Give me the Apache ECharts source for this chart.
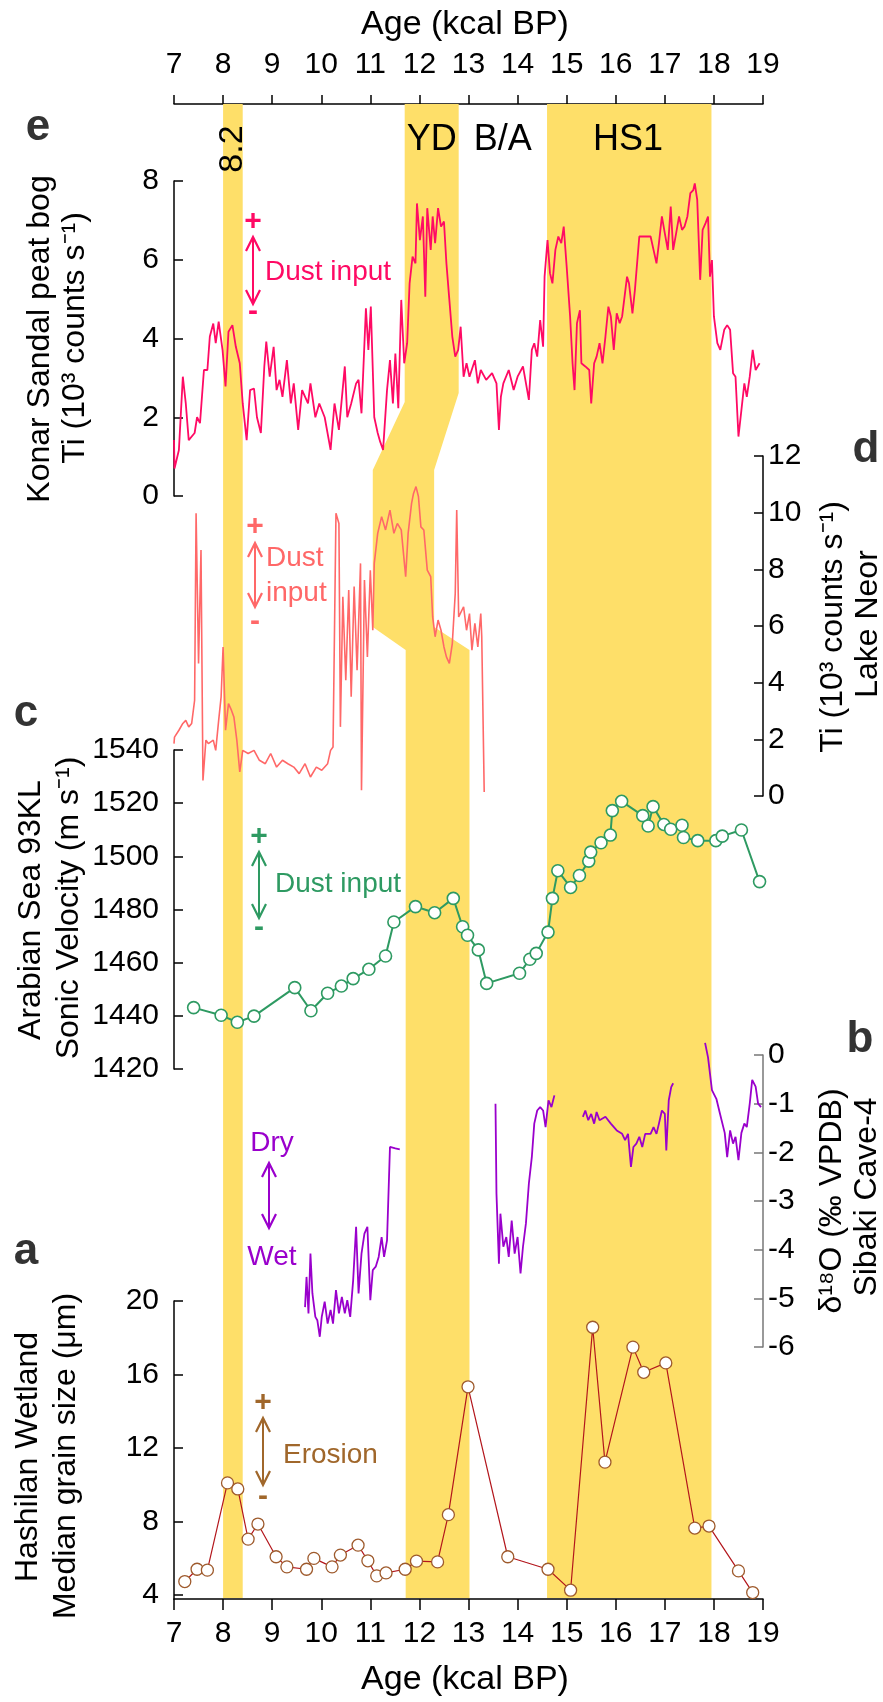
<!DOCTYPE html>
<html>
<head>
<meta charset="utf-8">
<script src="https://cdn.jsdelivr.net/npm/echarts@6/dist/echarts.min.js"></script>
<style>
html, body { margin: 0; padding: 0; background: #fff; }
#main { width: 883px; height: 1702px; }
</style>
</head>
<body>
<div id="main"></div>
<script>
// ---- data (ages in kcal BP) ----
var ageTicks = [7, 19];
var band82 = [8.0, 8.4];
var bandHS1 = [14.6, 17.95];
// YD band is offset between records: top (Konar), middle (Lake Neor), lower (c-a)
var ydTop = [11.7, 12.8];
var ydMid = [11.05, 12.3];
var ydLow = [11.72, 13.02];
var bandLabels = [['YD', 12.25], ['B/A', 13.7], ['HS1', 16.25]];

// e: Konar Sandal peat bog Ti (10^3 counts/s)
var konarTi = [[7.00,1.42],[7.01,0.70],[7.10,1.17],[7.18,3.03],[7.24,2.35],[7.30,1.42],[7.42,1.60],[7.47,2.00],[7.53,1.85],[7.61,3.20],[7.68,3.20],[7.73,4.05],[7.80,4.38],[7.85,3.88],[7.91,4.43],[7.99,3.70],[8.05,2.78],[8.11,4.17],[8.19,4.34],[8.26,3.79],[8.34,3.37],[8.40,2.35],[8.48,1.42],[8.55,2.69],[8.63,2.73],[8.69,2.00],[8.77,1.60],[8.84,3.29],[8.88,3.92],[8.95,3.03],[9.03,3.79],[9.09,2.69],[9.15,2.95],[9.21,2.52],[9.30,3.45],[9.38,2.35],[9.44,2.86],[9.53,1.68],[9.61,2.69],[9.73,2.35],[9.78,2.86],[9.88,2.00],[9.96,2.35],[10.07,2.00],[10.19,1.17],[10.27,2.35],[10.36,1.68],[10.48,3.29],[10.53,2.00],[10.61,2.35],[10.71,2.86],[10.76,2.95],[10.82,2.10],[10.91,4.77],[10.96,3.71],[11.01,4.81],[11.08,2.00],[11.15,1.60],[11.20,1.38],[11.26,1.17],[11.34,2.69],[11.40,3.45],[11.46,2.35],[11.51,3.62],[11.57,2.23],[11.63,4.98],[11.69,3.37],[11.75,3.88],[11.80,5.40],[11.86,6.08],[11.92,5.91],[11.95,7.43],[12.01,6.50],[12.07,7.10],[12.12,5.06],[12.16,7.31],[12.23,6.25],[12.27,7.10],[12.32,6.42],[12.38,7.31],[12.44,6.84],[12.50,6.97],[12.55,5.91],[12.61,4.98],[12.67,4.05],[12.73,3.54],[12.79,3.71],[12.84,4.30],[12.90,3.03],[12.96,3.37],[13.02,3.03],[13.13,3.45],[13.19,2.86],[13.25,3.20],[13.36,2.95],[13.48,3.12],[13.57,2.86],[13.62,1.68],[13.66,2.52],[13.71,2.86],[13.82,3.20],[13.92,2.69],[14.00,3.03],[14.11,3.29],[14.23,2.44],[14.29,3.71],[14.34,3.88],[14.40,3.54],[14.46,4.47],[14.52,3.79],[14.55,5.57],[14.61,6.50],[14.66,5.66],[14.71,5.40],[14.77,6.25],[14.83,6.59],[14.89,6.42],[14.94,6.84],[15.00,5.83],[15.07,4.56],[15.12,3.37],[15.16,2.69],[15.21,4.39],[15.27,4.72],[15.30,3.37],[15.38,3.29],[15.46,3.20],[15.50,2.35],[15.56,3.37],[15.61,3.54],[15.67,3.88],[15.73,3.37],[15.79,4.05],[15.85,4.81],[15.90,4.56],[15.96,3.71],[16.02,4.64],[16.08,4.39],[16.13,4.56],[16.23,5.57],[16.27,5.40],[16.34,4.64],[16.39,5.23],[16.48,6.59],[16.60,6.59],[16.71,6.59],[16.77,6.25],[16.83,5.91],[16.88,6.42],[16.94,7.10],[17.00,6.67],[17.06,6.25],[17.12,7.35],[17.17,6.25],[17.23,6.67],[17.29,7.10],[17.35,6.76],[17.40,6.84],[17.46,7.10],[17.52,7.69],[17.58,7.77],[17.61,7.94],[17.66,7.52],[17.72,5.49],[17.77,6.76],[17.83,6.93],[17.88,7.10],[17.92,5.57],[17.96,5.99],[18.00,4.56],[18.07,3.88],[18.13,3.71],[18.21,4.22],[18.27,4.34],[18.33,4.22],[18.39,3.12],[18.44,3.03],[18.50,1.51],[18.56,2.18],[18.62,2.86],[18.67,2.52],[18.73,3.03],[18.79,3.71],[18.85,3.20],[18.93,3.37]];

// d: Lake Neor Ti (10^3 counts/s)
var neorTi = [[7.00,1.85],[7.01,2.08],[7.10,2.32],[7.18,2.56],[7.24,2.67],[7.30,2.44],[7.36,2.56],[7.42,3.38],[7.45,9.98],[7.50,4.68],[7.55,8.68],[7.59,0.55],[7.65,1.97],[7.70,1.85],[7.80,1.97],[7.85,1.61],[7.91,2.67],[7.96,3.50],[8.00,5.26],[8.05,2.32],[8.11,3.26],[8.17,3.03],[8.22,2.79],[8.28,1.97],[8.34,0.85],[8.40,1.61],[8.51,1.50],[8.63,1.61],[8.74,1.26],[8.86,1.14],[8.97,1.50],[9.09,1.02],[9.21,1.26],[9.32,1.14],[9.44,1.02],[9.55,0.79],[9.67,1.14],[9.78,0.67],[9.90,1.02],[10.01,0.91],[10.13,1.14],[10.19,1.61],[10.24,1.73],[10.30,9.98],[10.36,9.62],[10.39,2.44],[10.44,7.03],[10.50,4.09],[10.56,7.27],[10.61,3.50],[10.67,7.39],[10.73,4.44],[10.80,8.21],[10.82,0.20],[10.88,7.62],[10.94,4.91],[11.00,7.97],[11.05,5.85],[11.08,8.21],[11.15,9.27],[11.23,9.86],[11.31,9.39],[11.40,10.09],[11.48,9.27],[11.55,9.62],[11.63,9.39],[11.72,7.74],[11.77,9.27],[11.84,10.33],[11.88,10.68],[11.93,10.92],[11.98,10.57],[12.03,9.50],[12.09,9.39],[12.16,7.97],[12.23,7.74],[12.27,6.32],[12.32,5.62],[12.38,6.21],[12.44,5.85],[12.50,5.26],[12.55,4.91],[12.61,4.68],[12.67,5.38],[12.73,7.15],[12.76,10.09],[12.80,6.32],[12.90,6.68],[12.96,5.85],[13.02,6.44],[13.07,5.15],[13.13,6.09],[13.19,5.26],[13.25,6.44],[13.27,5.62],[13.32,0.14]];

// c: Arabian Sea 93KL sonic velocity (m/s)
var arabianVel = [[7.40,1443.1],[7.96,1440.2],[8.29,1437.6],[8.63,1439.9],[9.46,1450.6],[9.79,1441.9],[10.13,1448.5],[10.41,1451.2],[10.65,1454.0],[10.97,1457.5],[11.31,1462.5],[11.48,1475.3],[11.92,1481.1],[12.31,1478.8],[12.69,1484.2],[12.88,1473.5],[12.98,1470.3],[13.20,1464.8],[13.37,1452.2],[14.04,1456.0],[14.25,1461.3],[14.38,1463.5],[14.62,1471.5],[14.71,1484.2],[14.82,1494.6],[15.08,1488.3],[15.26,1492.8],[15.45,1498.2],[15.49,1501.6],[15.70,1505.1],[15.89,1508.0],[15.93,1517.2],[16.12,1520.7],[16.55,1515.3],[16.66,1511.4],[16.76,1518.7],[16.98,1512.0],[17.12,1510.2],[17.35,1511.7],[17.38,1507.1],[17.67,1505.9],[18.04,1505.9],[18.17,1507.6],[18.56,1509.9],[18.93,1490.5]];

// b: Sibaki Cave-4 d18O (permil VPDB), four growth segments
var sibaki1 = [[9.67,-5.18],[9.70,-4.56],[9.74,-5.31],[9.78,-4.08],[9.82,-4.90],[9.88,-5.38],[9.92,-5.45],[9.97,-5.79],[10.01,-5.38],[10.07,-5.07],[10.13,-5.52],[10.19,-5.24],[10.24,-5.52],[10.30,-4.83],[10.36,-5.31],[10.42,-4.97],[10.48,-5.31],[10.53,-5.04],[10.59,-5.38],[10.65,-4.63],[10.71,-3.53],[10.76,-4.90],[10.82,-4.08],[10.88,-3.67],[10.94,-3.53],[11.00,-5.04],[11.05,-4.42],[11.11,-4.35],[11.17,-4.15],[11.23,-3.74],[11.28,-4.15],[11.34,-3.81],[11.40,-1.89],[11.51,-1.92],[11.60,-1.94]];
var sibaki2 = [[13.55,-1.00],[13.57,-2.85],[13.62,-4.29],[13.65,-3.26],[13.71,-3.94],[13.77,-3.74],[13.82,-4.15],[13.88,-3.40],[13.94,-4.08],[14.00,-3.74],[14.06,-4.49],[14.11,-3.94],[14.17,-3.46],[14.23,-2.64],[14.29,-2.10],[14.34,-1.41],[14.40,-1.14],[14.46,-1.07],[14.52,-1.14],[14.57,-1.48],[14.63,-0.93],[14.69,-1.07],[14.75,-0.83]];
var sibaki3 = [[15.33,-1.27],[15.38,-1.14],[15.44,-1.34],[15.50,-1.21],[15.56,-1.41],[15.61,-1.17],[15.67,-1.34],[15.79,-1.27],[15.90,-1.41],[16.02,-1.55],[16.13,-1.62],[16.19,-1.75],[16.25,-1.62],[16.31,-2.30],[16.36,-1.89],[16.42,-1.82],[16.48,-1.68],[16.54,-1.89],[16.60,-1.62],[16.71,-1.62],[16.77,-1.48],[16.83,-1.62],[16.88,-1.41],[16.94,-1.14],[17.00,-1.21],[17.03,-1.96],[17.08,-0.93],[17.13,-0.66],[17.17,-0.58]];
var sibaki4 = [[17.82,0.25],[17.88,-0.05],[17.96,-0.72],[18.05,-0.90],[18.12,-1.19],[18.22,-1.60],[18.27,-2.10],[18.33,-1.55],[18.39,-1.82],[18.44,-1.68],[18.50,-2.16],[18.56,-1.60],[18.62,-1.41],[18.67,-1.48],[18.73,-1.00],[18.78,-0.51],[18.85,-0.65],[18.90,-1.00],[18.96,-1.07]];

// a: Hashilan Wetland median grain size (um)
var hashilanGrain = [[7.22,4.73],[7.47,5.40],[7.68,5.35],[8.09,10.10],[8.30,9.77],[8.51,7.04],[8.71,7.86],[9.08,6.08],[9.30,5.53],[9.70,5.40],[9.85,5.99],[10.22,5.53],[10.39,6.17],[10.75,6.71],[10.95,5.86],[11.13,5.04],[11.32,5.20],[11.71,5.40],[11.94,5.84],[12.37,5.80],[12.59,8.37],[12.99,15.33],[13.80,6.08],[14.62,5.40],[15.08,4.26],[15.53,18.57],[15.78,11.23],[16.35,17.49],[16.57,16.12],[17.02,16.63],[17.61,7.64],[17.90,7.75],[18.50,5.31],[18.79,4.13]];
var grainTicks = [4, 8, 12, 16, 20];

// ---- styling ----
var FONT = '"Liberation Sans", Arial, Helvetica, sans-serif';
var BAND = '#FEDF69';
var C_E = '#FF0A64', C_D = '#FF6868', C_C = '#2E9A62', C_B = '#9A00CC', C_A = '#B3161C', C_ER = '#A0672B';

var myChart = echarts.init(document.getElementById('main'));

function plain(v) { return String(v); }

function yAx(grid, pos, min, max, interval, lineColor) {
  return {
    type: 'value', gridIndex: grid, position: pos, min: min, max: max, interval: interval,
    axisLine: { show: true, lineStyle: { color: lineColor || '#000', width: 1.5 } },
    axisTick: { show: true, inside: true, length: 9, lineStyle: { color: lineColor || '#000', width: 1.5 } },
    axisLabel: { show: true, fontSize: 30, color: '#000', fontFamily: FONT, margin: pos === 'left' ? 15 : 5, formatter: plain },
    splitLine: { show: false }
  };
}
function hiddenX(grid) {
  return { type: 'value', gridIndex: grid, min: ageTicks[0], max: ageTicks[1], show: false };
}
function frameX(pos, margin, tickLen) {
  return {
    type: 'value', gridIndex: 0, position: pos, min: ageTicks[0], max: ageTicks[1], interval: 1,
    axisLine: { show: true, onZero: false, lineStyle: { color: '#000', width: 1.5 } },
    axisTick: { show: true, length: tickLen, lineStyle: { color: '#000', width: 1.5 } },
    axisLabel: { fontSize: 30, color: '#000', fontFamily: FONT, margin: margin, formatter: plain },
    splitLine: { show: false }
  };
}

var aAxis = yAx(5, 'left', 3.78, 20, null);
delete aAxis.interval;
aAxis.axisTick.customValues = grainTicks;
aAxis.axisLabel.customValues = grainTicks;

function txt(s, x, y, size, color, opts) {
  opts = opts || {};
  return {
    type: 'text', x: x, y: y, rotation: opts.rot || 0, z: 10,
    style: {
      text: s, fill: color, fontSize: size, fontFamily: FONT,
      fontWeight: opts.bold ? 'bold' : 'normal',
      align: opts.align || 'center', verticalAlign: 'middle'
    }
  };
}
function arrow(x, y1, y2, color) {
  return [
    { type: 'line', z: 10, shape: { x1: x, y1: y1, x2: x, y2: y2 }, style: { stroke: color, lineWidth: 2 } },
    { type: 'polyline', z: 10, shape: { points: [[x - 7, y1 + 14], [x, y1], [x + 7, y1 + 14]] }, style: { stroke: color, lineWidth: 2.2, fill: null } },
    { type: 'polyline', z: 10, shape: { points: [[x - 7, y2 - 14], [x, y2], [x + 7, y2 - 14]] }, style: { stroke: color, lineWidth: 2.2, fill: null } }
  ];
}

var R90 = Math.PI / 2;
var graphics = [
  txt('Age (kcal BP)', 465, 25, 34, '#000'),
  txt('Age (kcal BP)', 465, 1680, 34, '#000'),
  // y titles
  txt('Konar Sandal peat bog', 40, 339, 32, '#000', { rot: R90 }),
  txt('Ti (10³ counts s⁻¹)', 75, 338, 32, '#000', { rot: R90 }),
  txt('Ti (10³ counts s⁻¹)', 833, 627, 32, '#000', { rot: R90 }),
  txt('Lake Neor', 868, 624, 32, '#000', { rot: R90 }),
  txt('Arabian Sea 93KL', 31, 910, 32, '#000', { rot: R90 }),
  txt('Sonic Velocity (m s⁻¹)', 69, 908, 32, '#000', { rot: R90 }),
  txt('δ¹⁸O (‰ VPDB)', 832, 1201, 32, '#000', { rot: R90 }),
  txt('Sibaki Cave-4', 867, 1197, 32, '#000', { rot: R90 }),
  txt('Hashilan Wetland', 28, 1457, 32, '#000', { rot: R90 }),
  txt('Median grain size (μm)', 66, 1456, 32, '#000', { rot: R90 }),
  // panel letters
  txt('e', 38, 128, 44, '#333', { bold: true }),
  txt('d', 866, 450, 44, '#333', { bold: true }),
  txt('c', 26, 714, 44, '#333', { bold: true }),
  txt('b', 860, 1040, 44, '#333', { bold: true }),
  txt('a', 26, 1252, 44, '#333', { bold: true }),
  // event label
  txt('8.2', 233, 149, 34, '#000', { rot: R90 }),
  // e annotation
  txt('+', 253, 222, 30, C_E, { bold: true }),
  txt('-', 253, 312, 30, C_E, { bold: true }),
  txt('Dust input', 265, 272, 28, C_E, { align: 'left' }),
  // d annotation
  txt('+', 255, 527, 30, C_D, { bold: true }),
  txt('-', 255, 622, 30, C_D, { bold: true }),
  txt('Dust', 266, 558, 28, C_D, { align: 'left' }),
  txt('input', 266, 593, 28, C_D, { align: 'left' }),
  // c annotation
  txt('+', 259, 837, 30, C_C, { bold: true }),
  txt('-', 259, 928, 30, C_C, { bold: true }),
  txt('Dust input', 275, 884, 28, C_C, { align: 'left' }),
  // b annotation
  txt('Dry', 272, 1143, 28, C_B),
  txt('Wet', 272, 1257, 28, C_B),
  // a annotation
  txt('+', 263, 1403, 30, C_ER, { bold: true }),
  txt('-', 263, 1497, 30, C_ER, { bold: true }),
  txt('Erosion', 283, 1455, 28, C_ER, { align: 'left' })
].concat(arrow(253, 237, 304, C_E), arrow(255, 543, 607, C_D), arrow(259, 852, 918, C_C),
         arrow(269, 1163, 1228, C_B), arrow(263, 1418, 1485, C_ER));

var option = {
  backgroundColor: '#fff',
  animation: false,
  grid: [
    { left: 174, right: 120, top: 104, bottom: 103, outerBoundsMode: 'none' },
    { left: 174, right: 120, top: 181, height: 315, outerBoundsMode: 'none' },
    { left: 174, right: 120, top: 456, height: 340, outerBoundsMode: 'none' },
    { left: 174, right: 120, top: 750, height: 319, outerBoundsMode: 'none' },
    { left: 174, right: 120, top: 1055, height: 292, outerBoundsMode: 'none' },
    { left: 174, right: 120, top: 1301, height: 298, outerBoundsMode: 'none' }
  ],
  xAxis: [frameX('top', 24, 9), frameX('bottom', 20, 11), hiddenX(1), hiddenX(2), hiddenX(3), hiddenX(4), hiddenX(5)],
  yAxis: [
    { type: 'value', gridIndex: 0, min: 0, max: 1, show: false },
    yAx(1, 'left', 0, 8, 2),
    yAx(2, 'right', 0, 12, 2),
    yAx(3, 'left', 1420, 1540, 20),
    yAx(4, 'right', -6, 0, 1, '#777'),
    aAxis
  ],
  graphic: graphics,
  series: [
    {
      type: 'custom', xAxisIndex: 0, yAxisIndex: 0, z: 1, silent: true,
      data: [band82, bandHS1],
      renderItem: function (params, api) {
        var p0 = api.coord([api.value(0), 1]);
        var p1 = api.coord([api.value(1), 0]);
        return { type: 'rect', shape: { x: p0[0], y: p0[1], width: p1[0] - p0[0], height: p1[1] - p0[1] - 1 }, style: { fill: BAND } };
      }
    },
    {
      type: 'custom', xAxisIndex: 0, yAxisIndex: 0, z: 1, silent: true,
      data: [[ydLow[0], 0]],
      renderItem: function (params, api) {
        var cs = params.coordSys;
        var top = cs.y, bot = cs.y + cs.height - 1;
        var X = function (a) { return api.coord([a, 0])[0]; };
        var pts = [
          [X(ydTop[0]), top], [X(ydTop[1]), top], [X(ydTop[1]), 393], [X(ydMid[1]), 470],
          [X(ydMid[1]), 627], [X(ydLow[1]), 650], [X(ydLow[1]), bot], [X(ydLow[0]), bot],
          [X(ydLow[0]), 650], [X(ydMid[0]), 627], [X(ydMid[0]), 470], [X(ydTop[0]), 402]
        ];
        return { type: 'polygon', shape: { points: pts }, style: { fill: BAND } };
      }
    },
    {
      type: 'custom', xAxisIndex: 0, yAxisIndex: 0, z: 4, silent: true,
      data: bandLabels.map(function (b) { return [b[1], 0]; }),
      renderItem: function (params, api) {
        var x = api.coord([api.value(0), 0])[0];
        return { type: 'text', x: x, y: 140, style: { text: bandLabels[params.dataIndex][0], fontSize: 36, fontFamily: FONT, fill: '#000', align: 'center', verticalAlign: 'middle' } };
      }
    },
    { type: 'line', xAxisIndex: 2, yAxisIndex: 1, z: 3, data: konarTi, showSymbol: false, clip: false, lineStyle: { color: C_E, width: 1.8 } },
    { type: 'line', xAxisIndex: 3, yAxisIndex: 2, z: 3, data: neorTi, showSymbol: false, clip: false, lineStyle: { color: C_D, width: 1.6 } },
    { type: 'line', xAxisIndex: 4, yAxisIndex: 3, z: 3, data: arabianVel, clip: false,
      symbol: 'circle', symbolSize: 12, lineStyle: { color: C_C, width: 2 },
      itemStyle: { color: '#fff', borderColor: C_C, borderWidth: 1.6 } },
    { type: 'line', xAxisIndex: 5, yAxisIndex: 4, z: 3, data: sibaki1, showSymbol: false, clip: false, lineStyle: { color: C_B, width: 1.8 } },
    { type: 'line', xAxisIndex: 5, yAxisIndex: 4, z: 3, data: sibaki2, showSymbol: false, clip: false, lineStyle: { color: C_B, width: 1.8 } },
    { type: 'line', xAxisIndex: 5, yAxisIndex: 4, z: 3, data: sibaki3, showSymbol: false, clip: false, lineStyle: { color: C_B, width: 1.8 } },
    { type: 'line', xAxisIndex: 5, yAxisIndex: 4, z: 3, data: sibaki4, showSymbol: false, clip: false, lineStyle: { color: C_B, width: 1.8 } },
    { type: 'line', xAxisIndex: 6, yAxisIndex: 5, z: 3, data: hashilanGrain, clip: false,
      symbol: 'circle', symbolSize: 12, lineStyle: { color: C_A, width: 1.2 },
      itemStyle: { color: '#fff', borderColor: '#9E5A2C', borderWidth: 1.3 } }
  ]
};

myChart.setOption(option);
</script>
</body>
</html>
